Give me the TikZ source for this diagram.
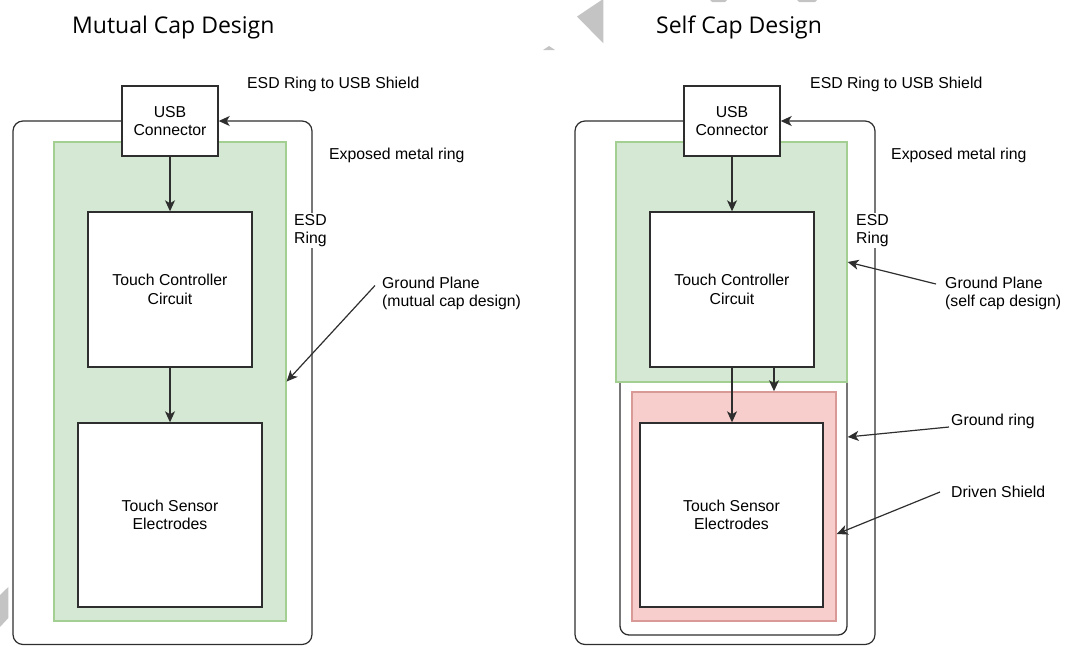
\documentclass[tikz,border=0pt]{standalone}
\usepackage{fontspec}
\setmainfont{Liberation Sans}
\newfontfamily\titlefont{Open Sans}
\usetikzlibrary{arrows.meta}
\definecolor{gfill}{HTML}{D5E8D4}
\definecolor{gline}{HTML}{A3CF92}
\definecolor{rfill}{HTML}{F8CECC}
\definecolor{rline}{HTML}{D99A97}
\definecolor{ink}{HTML}{2E2E2E}
\definecolor{wm}{HTML}{C4C4C4}
\begin{document}
\begin{tikzpicture}[x=1pt,y=-1pt,
  every node/.style={font=\fontsize{15.8}{18.5}\selectfont, inner sep=0pt},
  blk/.style={draw=ink, line width=1.4pt, fill=white, align=center},
  plane/.style={fill=gfill, draw=gline, line width=1.3pt},
  shield/.style={fill=rfill, draw=rline, line width=1.5pt},
  ring/.style={draw=ink, line width=1.3pt, rounded corners=10pt},
  arr/.style={draw=ink, line width=1.2pt, -{Stealth[length=11pt,width=10pt,inset=3pt]}},
  lbl/.style={anchor=west, align=left},
  ttl/.style={anchor=base west, font=\titlefont\fontsize{23}{27}\selectfont},
]
\useasboundingbox (0,0) rectangle (1086,646);

% faint background marks
\fill[wm] (601.7,0) -- (577,16.5) -- (603.3,43.3) -- (603.3,0) -- cycle;
\fill[wm] (543,50) -- (549,46) -- (555,50) -- cycle;
\fill[wm] (710,0) -- (727,0) -- (725,2) -- (712,2) -- cycle;
\fill[wm] (797,0) -- (817,0) -- (815,2) -- (799,2) -- cycle;
\fill[wm] (0,595) -- (8.3,587) -- (8.3,618) -- (0,627) -- cycle;

% ---------------- mutual cap design ----------------
\node[ttl] (titleL) at (72,33.3) {Mutual Cap Design};
\node[plane, minimum width=232pt, minimum height=479pt] (gpL) at (170,381.5) {};
\node[blk, minimum width=96pt, minimum height=70pt] (usbL) at (170,121) {USB\\Connector};
\node[blk, minimum width=164pt, minimum height=155pt] (tcL) at (170,289.5) {Touch Controller\\Circuit};
\node[blk, minimum width=184pt, minimum height=184pt] (tsL) at (170,515) {Touch Sensor\\Electrodes};
\coordinate (ringL1) at (13,644.5);
\coordinate (ringL2) at (312,121);
\draw[ring, arr] (usbL.west) -- (usbL.west -| ringL1) -- (ringL1) -- (ringL1 -| ringL2) -- (ringL2) -- (usbL.east);
\draw[arr] (usbL.south) -- (tcL.north);
\draw[arr] (tcL.south) -- (tsL.north);

\node[lbl] (usbTxtL) at (247,84.5) {ESD Ring to USB Shield};
\node[lbl] (metalL) at (329,155.5) {Exposed metal ring};
\node[lbl, fill=white, inner sep=1pt] (esdL) at (293,230.5) {ESD\\Ring};
\node[lbl] (gpTxtL) at (382,293.5) {Ground Plane\\(mutual cap design)};
\draw[arr] ([shift={(-7,-8)}]gpTxtL.west) -- (gpL.east);

% ---------------- self cap design ----------------
\node[ttl] (titleR) at (656,33.3) {Self Cap Design};
\node[draw=ink, line width=1.3pt, rounded corners=9pt, minimum width=227pt, minimum height=263pt] (gringR) at (733.5,503.5) {};
\node[plane, minimum width=231pt, minimum height=240pt] (gpR) at (731.5,262) {};
\node[shield, minimum width=204pt, minimum height=229pt] (shR) at (734,506.5) {};
\node[blk, minimum width=96pt, minimum height=70pt] (usbR) at (732,121) {USB\\Connector};
\node[blk, minimum width=164pt, minimum height=155pt] (tcR) at (732,289.5) {Touch Controller\\Circuit};
\node[blk, minimum width=183pt, minimum height=184pt] (tsR) at (731.5,515) {Touch Sensor\\Electrodes};
\coordinate (ringR1) at (575,644.5);
\coordinate (ringR2) at (875,121);
\draw[ring, arr] (usbR.west) -- (usbR.west -| ringR1) -- (ringR1) -- (ringR1 -| ringR2) -- (ringR2) -- (usbR.east);
\draw[arr] (usbR.south) -- (tcR.north);
\draw[arr] (tcR.south) -- (tcR.south |- tsR.north);
\draw[arr] ([xshift=42pt]tcR.south) -- ([xshift=42pt]tcR.south |- shR.north);

\node[lbl] (usbTxtR) at (810,84.5) {ESD Ring to USB Shield};
\node[lbl] (metalR) at (891,155.5) {Exposed metal ring};
\node[lbl, fill=white, inner sep=1pt] (esdR) at (855,230.5) {ESD\\Ring};
\node[lbl] (gpTxtR) at (945,293.5) {Ground Plane\\(self cap design)};
\node[lbl] (grTxtR) at (951,421) {Ground ring};
\node[lbl] (dsTxtR) at (951,492) {Driven Shield};
\draw[arr] ([shift={(-9,-9.5)}]gpTxtR.west) -- (gpR.east);
\draw[arr] ([shift={(-2,6)}]grTxtR.west) -- ([yshift=66.5pt]gringR.east);
\draw[arr] ([shift={(-11,0)}]dsTxtR.west) -- ([yshift=-27.5pt]shR.east);
\end{tikzpicture}
\end{document}
